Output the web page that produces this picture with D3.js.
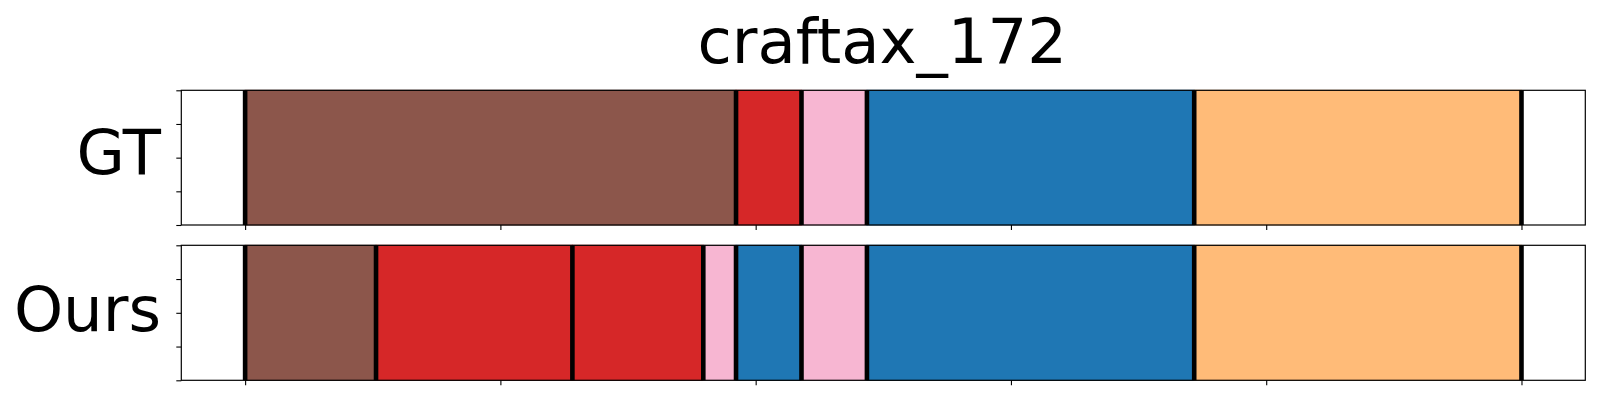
<!DOCTYPE html>
<html>
<head>
<meta charset="utf-8">
<script src="https://cdn.jsdelivr.net/npm/d3@7"></script>
<style>
  html, body { margin: 0; padding: 0; background: #fff; }
  svg { display: block; font-family: "DejaVu Sans", sans-serif; }
</style>
</head>
<body>
<svg id="chart" width="1600" height="400"></svg>
<script>
// ---- data ----
const title = "craftax_172";
const rowNames = ["GT", "Ours"];
// segment boundaries (time units) and class ids for each row
const gtBounds = [0, 15, 17, 19, 29, 39];
const gtClasses = [10, 6, 13, 0, 3];
const oursBounds = [0, 4, 10, 14, 15, 17, 19, 29, 39];
const oursClasses = [10, 6, 6, 13, 0, 13, 0, 3];
const xTickValues = [0, 7.8, 15.6, 23.4, 31.2, 39];
const yTickValues = [0, 0.25, 0.5, 0.75, 1];

// tab20 palette
const tab20 = ["#1f77b4","#aec7e8","#ff7f0e","#ffbb78","#2ca02c","#98df8a","#d62728","#ff9896",
  "#9467bd","#c5b0d5","#8c564b","#c49c94","#e377c2","#f7b6d2","#7f7f7f","#c7c7c7",
  "#bcbd22","#dbdb8d","#17becf","#9edae5"];
const color = d3.scaleOrdinal().domain(d3.range(20)).range(tab20);

const rows = [
  { name: rowNames[0], bounds: gtBounds, classes: gtClasses, top: 90.3, bottom: 225, labelY: 174 },
  { name: rowNames[1], bounds: oursBounds, classes: oursClasses, top: 245.3, bottom: 380.3, labelY: 330.7 }
];

const svg = d3.select("#chart");
const left = 181.3, right = 1585.3;
const total = d3.max(gtBounds);
const x = d3.scaleLinear().domain([-0.05 * total, total * 1.05]).range([left, right]);
const fontSize = 62.5;

svg.append("text")
  .attr("x", (left + right) / 2 - 1)
  .attr("y", 63.3)
  .attr("text-anchor", "middle")
  .attr("font-size", fontSize)
  .attr("fill", "#000")
  .text(title);

rows.forEach(r => {
  const y = d3.scaleLinear().domain([0, 1]).range([r.bottom, r.top]);
  const g = svg.append("g");
  const segs = r.classes.map((c, i) => ({ c, s: r.bounds[i], e: r.bounds[i + 1] }));

  g.selectAll("rect.seg").data(segs).join("rect")
    .attr("class", "seg")
    .attr("x", d => x(d.s))
    .attr("y", y(1))
    .attr("width", d => x(d.e) - x(d.s))
    .attr("height", y(0) - y(1))
    .attr("fill", d => color(d.c))
    .attr("stroke", d => d3.color(color(d.c)).darker(0.35))
    .attr("stroke-width", 1);

  g.selectAll("line.bd").data(r.bounds).join("line")
    .attr("class", "bd")
    .attr("x1", d => x(d)).attr("x2", d => x(d))
    .attr("y1", y(1)).attr("y2", y(0))
    .attr("stroke", "#000")
    .attr("stroke-width", 4.6);

  // axes
  const yAxis = d3.axisLeft(y).tickValues(yTickValues).tickFormat("").tickSize(5).tickSizeOuter(0);
  const ya = g.append("g").attr("transform", `translate(${left},0)`).call(yAxis);
  const xAxis = d3.axisBottom(x).tickValues(xTickValues).tickFormat("").tickSize(5).tickSizeOuter(0);
  const xa = g.append("g").attr("transform", `translate(0,${r.bottom})`).call(xAxis);
  [ya, xa].forEach(a => {
    a.select(".domain").remove();
    a.selectAll(".tick line").attr("stroke", "#000").attr("stroke-width", 1.1);
  });

  // spines
  g.append("rect")
    .attr("x", left).attr("y", r.top)
    .attr("width", right - left).attr("height", r.bottom - r.top)
    .attr("fill", "none").attr("stroke", "#000").attr("stroke-width", 1.2);

  g.append("text")
    .attr("x", 161)
    .attr("y", r.labelY)
    .attr("text-anchor", "end")
    .attr("font-size", fontSize)
    .attr("fill", "#000")
    .text(r.name);
});
</script>
</body>
</html>
